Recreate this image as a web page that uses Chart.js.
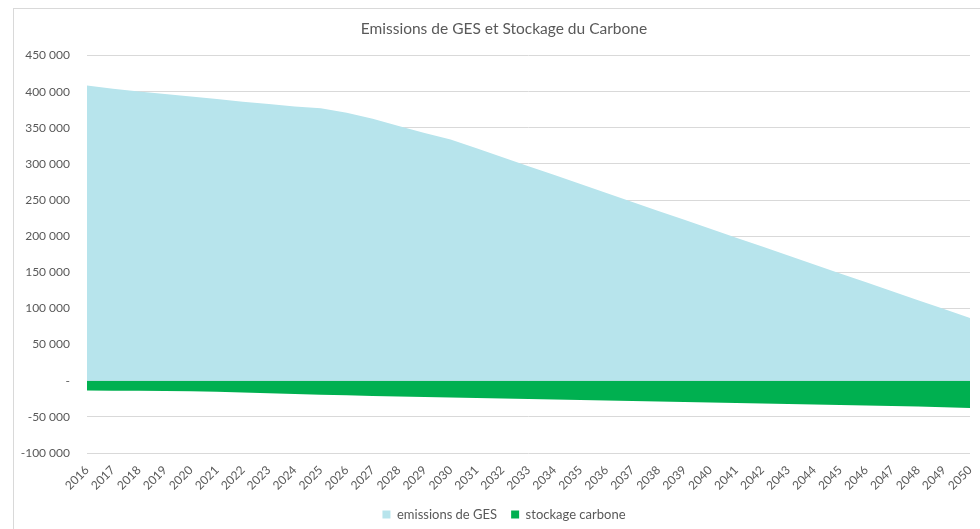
<!DOCTYPE html>
<html>
<head>
<meta charset="utf-8">
<script src="https://cdn.jsdelivr.net/npm/chart.js@4/dist/chart.umd.min.js"></script>
<style>
  html, body { margin: 0; padding: 0; background: #ffffff; overflow: hidden; width: 980px; height: 529px; }
  #frame { position: absolute; left: 13px; top: 8px; width: 1000px; height: 560px; border: 1px solid #d9d9d9; box-sizing: border-box; }
  #wrap { position: absolute; left: 0; top: 0; width: 1008px; height: 531px; }
</style>
</head>
<body>
<div id="frame"></div>
<div id="wrap"><canvas id="c" width="1008" height="531"></canvas></div>
<script>
const years = ["2016","2017","2018","2019","2020","2021","2022","2023","2024","2025","2026","2027","2028","2029","2030","2031","2032","2033","2034","2035","2036","2037","2038","2039","2040","2041","2042","2043","2044","2045","2046","2047","2048","2049","2050"];
const emissionsGES = [408600,404200,400200,396700,393300,389800,386300,382900,379500,377000,371000,362500,352500,343000,334000,321600,309300,296900,284600,272200,259800,247500,235100,222800,210400,198000,185700,173300,161000,148600,136200,123900,111500,99200,86800];
const stockageCarbone = [-13500,-13700,-13900,-14100,-14400,-15400,-16400,-17400,-18400,-19400,-20200,-21000,-21800,-22500,-23200,-23900,-24600,-25300,-26000,-26700,-27400,-28100,-28800,-29500,-30200,-30900,-31600,-32300,-33000,-33700,-34400,-35100,-35800,-36600,-37800];
const yMin = -100000, yMax = 450000, yStep = 50000;
const titleText = "Emissions de GES et Stockage du Carbone";
const seriesNames = ["emissions de GES", "stockage carbone"];

const FONT = "Lato, 'Open Sans', sans-serif";
const TXT = "#595959";

function fmt(v) {
  if (v === 0) return "-";
  const s = Math.abs(v).toString().replace(/\B(?=(\d{3})+(?!\d))/g, " ");
  return (v < 0 ? "-" : "") + s;
}

new Chart(document.getElementById("c"), {
  type: "line",
  data: {
    labels: years,
    datasets: [
      { label: seriesNames[0], data: emissionsGES, fill: "origin", backgroundColor: "#b7e4ec", borderColor: "#b7e4ec", borderWidth: 0, pointRadius: 0, tension: 0 },
      { label: seriesNames[1], data: stockageCarbone, fill: "origin", backgroundColor: "#00b050", borderColor: "#00b050", borderWidth: 0, pointRadius: 0, tension: 0 }
    ]
  },
  options: {
    responsive: false,
    animation: false,
    layout: { padding: { left: 0, right: 0, top: 0, bottom: 0 } },
    plugins: {
      title: { display: true, text: titleText, color: TXT, font: { family: FONT, size: 15.5, weight: "normal" }, padding: { top: 20, bottom: 17 } },
      legend: {
        position: "bottom",
        labels: { boxWidth: 8, boxHeight: 8, color: TXT, font: { family: FONT, size: 13 }, padding: 14 }
      },
      tooltip: { enabled: false }
    },
    scales: {
      x: {
        offset: false,
        grid: { display: false },
        border: { display: false },
        ticks: { color: TXT, font: { family: FONT, size: 12 }, minRotation: 45, maxRotation: 45, autoSkip: false, padding: 2 },
        afterFit: s => { s.height = 41; }
      },
      y: {
        min: yMin, max: yMax,
        grid: { color: "#d9d9d9", lineWidth: 1, drawTicks: false },
        border: { display: false },
        ticks: { stepSize: yStep, color: TXT, font: { family: FONT, size: 12 }, padding: 17, callback: v => fmt(v) },
        afterFit: s => { s.width = 87; }
      },
      yRight: {
        position: "right",
        display: true,
        grid: { display: false, drawTicks: false },
        border: { display: false },
        ticks: { display: false },
        afterFit: s => { s.width = 38; }
      }
    }
  }
});
</script>
</body>
</html>
